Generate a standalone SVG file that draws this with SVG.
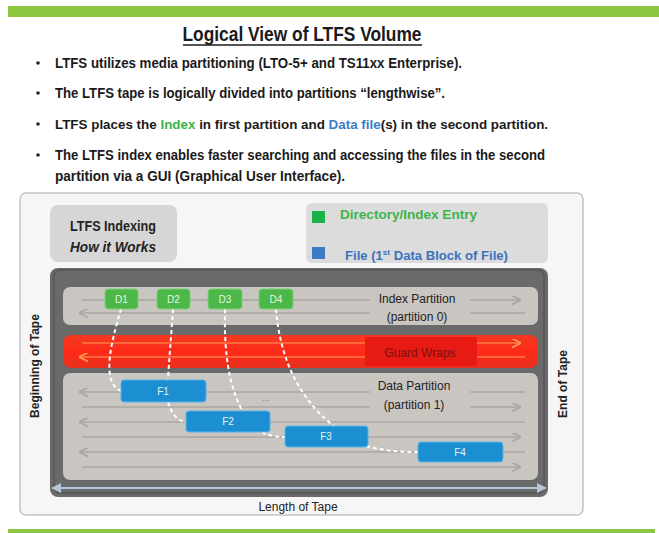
<svg xmlns="http://www.w3.org/2000/svg" width="659" height="533" viewBox="0 0 659 533">
<style>
text{font-family:"Liberation Sans",Arial,sans-serif}
.b{font-weight:bold;font-size:14px;fill:#1a1a1a}
.lbl{font-size:12px;fill:#222}
.dk{fill:#c9c5c1}
.ln{stroke:#aaa6a2;stroke-width:1.5;fill:none}
.rl{stroke:#ff7a45;stroke-width:1.5;fill:none}
.d{fill:#4cb848;stroke:#7ed07a;stroke-width:1}
.f{fill:#1c8ed2;stroke:#5ab4e8;stroke-width:1}
.bt{font-size:10px;fill:#e8f4e8;text-anchor:middle}
.conn{stroke:#ffffff;stroke-width:2;stroke-dasharray:4 3;fill:none}
</style>
<defs>
<marker id="al" viewBox="0 0 10 10" refX="9" refY="5" markerWidth="6" markerHeight="6" orient="auto-start-reverse"><path d="M0,0 L10,5 L0,10" fill="none" stroke="#aaa6a2" stroke-width="2"/></marker>
<marker id="ao" viewBox="0 0 10 10" refX="9" refY="5" markerWidth="6" markerHeight="6" orient="auto-start-reverse"><path d="M0,0 L10,5 L0,10" fill="none" stroke="#ff9a55" stroke-width="2"/></marker>
<marker id="ab" viewBox="0 0 10 10" refX="5" refY="5" markerWidth="5" markerHeight="5" orient="auto-start-reverse"><path d="M0,0 L10,5 L0,10 z" fill="#b4c6d8"/></marker>
<linearGradient id="red" x1="0" y1="0" x2="0" y2="1"><stop offset="0" stop-color="#f23a22"/><stop offset="0.5" stop-color="#ff2a18"/><stop offset="1" stop-color="#e8301e"/></linearGradient>
</defs>
<rect x="0" y="0" width="659" height="533" fill="#ffffff"/>
<rect x="8" y="6" width="651" height="11" fill="#8dc63f"/>
<rect x="8" y="529" width="647" height="4" fill="#8dc63f"/>

<g id="title">
<text x="302" y="41" text-anchor="middle" font-size="20" font-weight="bold" fill="#1a1a1a" textLength="239" lengthAdjust="spacingAndGlyphs">Logical View of LTFS Volume</text>
<line x1="183" y1="45" x2="422" y2="45" stroke="#1a1a1a" stroke-width="1.5"/>
</g>
<g id="bullets">
<circle cx="38" cy="63" r="1.8" fill="#222"/>
<circle cx="38" cy="93" r="1.8" fill="#222"/>
<circle cx="38" cy="124" r="1.8" fill="#222"/>
<circle cx="38" cy="155" r="1.8" fill="#222"/>
<text class="b" x="55" y="68" textLength="407" lengthAdjust="spacingAndGlyphs">LTFS utilizes media partitioning (LTO-5+ and TS11xx Enterprise).</text>
<text class="b" x="55" y="98" textLength="390" lengthAdjust="spacingAndGlyphs">The LTFS tape is logically divided into partitions “lengthwise”.</text>
<text class="b" x="55" y="129" style="font-size:13.4px">LTFS places the <tspan fill="#3cb44a">Index</tspan> in first partition and <tspan fill="#3a7cc4">Data file</tspan>(s) in the second partition.</text>
<text class="b" x="55" y="160" textLength="490" lengthAdjust="spacingAndGlyphs">The LTFS index enables faster searching and accessing the files in the second</text>
<text class="b" x="55" y="181" textLength="290" lengthAdjust="spacingAndGlyphs">partition via a GUI (Graphical User Interface).</text>
</g>

<g id="frame">
<rect x="20" y="193" width="563" height="322" rx="6" fill="#f6f6f7" stroke="#c4c4c4" stroke-width="1.5"/>
</g>
<g id="indexing-box">
<rect x="50" y="205" width="127" height="57" rx="8" fill="#d6d6d6"/>
<text x="113" y="231" text-anchor="middle" font-size="14" font-weight="bold" fill="#222" textLength="86" lengthAdjust="spacingAndGlyphs">LTFS Indexing</text>
<text x="113" y="252" text-anchor="middle" font-size="14" font-weight="bold" font-style="italic" fill="#222" textLength="86" lengthAdjust="spacingAndGlyphs">How it Works</text>
</g>
<g id="legend">
<rect x="306" y="203" width="242" height="60" rx="6" fill="#dcdcdc"/>
<rect x="312" y="211" width="13" height="12" fill="#1bb14a"/>
<rect x="312" y="247" width="13" height="12" fill="#3d7cc4"/>
<text x="340" y="219" font-size="13" font-weight="bold" fill="#3cb44a" textLength="137" lengthAdjust="spacingAndGlyphs">Directory/Index Entry</text>
<text x="345" y="260" font-size="13" font-weight="bold" fill="#3a72bc" textLength="163" lengthAdjust="spacingAndGlyphs">File (1<tspan font-size="8" dy="-5">st</tspan><tspan dy="5"> Data Block of File)</tspan></text>
</g>

<g id="tape">
<rect x="50" y="268" width="498" height="229" rx="8" fill="#6a6a6a"/>
<rect x="54" y="270" width="490" height="223" rx="6" fill="none" stroke="#5a5a5a" stroke-width="2"/>
<line x1="56" y1="488" x2="542" y2="488" stroke="#b4c6d8" stroke-width="2" marker-start="url(#ab)" marker-end="url(#ab)"/>
</g>
<g id="index-partition">
<rect x="63" y="287" width="475" height="38" rx="7" class="dk"/>
<line class="ln" x1="82" y1="300" x2="370" y2="300"/>
<line class="ln" x1="470" y1="300" x2="520" y2="300" marker-end="url(#al)"/>
<line class="ln" x1="80" y1="313" x2="370" y2="313" marker-start="url(#al)"/>
<line class="ln" x1="470" y1="313" x2="525" y2="313"/>
<text class="lbl" x="417" y="303" text-anchor="middle">Index Partition</text>
<text class="lbl" x="417" y="321" text-anchor="middle">(partition 0)</text>
</g>
<g id="guard-wraps">
<rect x="63" y="335" width="475" height="33" rx="8" fill="url(#red)"/>
<rect x="365" y="337" width="112" height="29" fill="#e81a14"/>
<line class="rl" x1="82" y1="343" x2="365" y2="343"/>
<line class="rl" x1="477" y1="343" x2="520" y2="343" marker-end="url(#ao)"/>
<line class="rl" x1="80" y1="357" x2="365" y2="357" marker-start="url(#ao)"/>
<line class="rl" x1="477" y1="357" x2="525" y2="357"/>
<text x="420" y="357" text-anchor="middle" font-size="12" fill="#7a1010">Guard Wraps</text>
</g>
<g id="data-partition">
<rect x="63" y="373" width="475" height="107" rx="7" class="dk"/>
<line class="ln" x1="80" y1="392" x2="370" y2="392" marker-start="url(#al)"/>
<line class="ln" x1="470" y1="392" x2="525" y2="392"/>
<line class="ln" x1="82" y1="407" x2="370" y2="407"/>
<line class="ln" x1="470" y1="407" x2="520" y2="407" marker-end="url(#al)"/>
<line class="ln" x1="80" y1="422" x2="525" y2="422" marker-start="url(#al)"/>
<line class="ln" x1="82" y1="437" x2="520" y2="437" marker-end="url(#al)"/>
<line class="ln" x1="80" y1="452" x2="525" y2="452" marker-start="url(#al)"/>
<line class="ln" x1="82" y1="467" x2="520" y2="467" marker-end="url(#al)"/>
<text class="lbl" x="414" y="390" text-anchor="middle">Data Partition</text>
<text class="lbl" x="414" y="409" text-anchor="middle">(partition 1)</text>
<text x="266" y="401" text-anchor="middle" font-size="9" fill="#888">...</text>
</g>

<g id="connectors">
<path class="conn" d="M121,309 C112,340 100,382 121,391"/>
<path class="conn" d="M173,309 C171,340 169,360 168,380"/>
<path class="conn" d="M168,402 C172,415 178,421 186,422"/>
<path class="conn" d="M225,309 C224,350 228,385 243,412"/>
<path class="conn" d="M262,432 C270,436 276,437 285,437"/>
<path class="conn" d="M276,309 C280,360 300,400 335,427"/>
<path class="conn" d="M366,446 C385,451 400,452 418,452"/>
</g>

<g id="D1"><rect class="d" x="105" y="289" width="33" height="20" rx="3"/><text class="bt" x="121.5" y="303">D1</text></g>
<g id="D2"><rect class="d" x="157" y="289" width="33" height="20" rx="3"/><text class="bt" x="173.5" y="303">D2</text></g>
<g id="D3"><rect class="d" x="208" y="289" width="34" height="20" rx="3"/><text class="bt" x="225" y="303">D3</text></g>
<g id="D4"><rect class="d" x="259" y="289" width="34" height="20" rx="3"/><text class="bt" x="276" y="303">D4</text></g>
<g id="F1"><rect class="f" x="121" y="380" width="85" height="22" rx="3"/><text class="bt" x="163" y="395">F1</text></g>
<g id="F2"><rect class="f" x="186" y="411" width="84" height="21" rx="3"/><text class="bt" x="228" y="425">F2</text></g>
<g id="F3"><rect class="f" x="285" y="426" width="83" height="21" rx="3"/><text class="bt" x="326" y="440">F3</text></g>
<g id="F4"><rect class="f" x="418" y="442" width="85" height="20" rx="3"/><text class="bt" x="460" y="456">F4</text></g>

<g id="axis-labels">
<text x="0" y="0" transform="translate(39,366) rotate(-90)" text-anchor="middle" font-size="12" font-weight="bold" fill="#222">Beginning of Tape</text>
<text x="0" y="0" transform="translate(567,384) rotate(-90)" text-anchor="middle" font-size="12" font-weight="bold" fill="#222">End of Tape</text>
<text x="298" y="511" text-anchor="middle" font-size="12" fill="#222">Length of Tape</text>
</g>
</svg>
